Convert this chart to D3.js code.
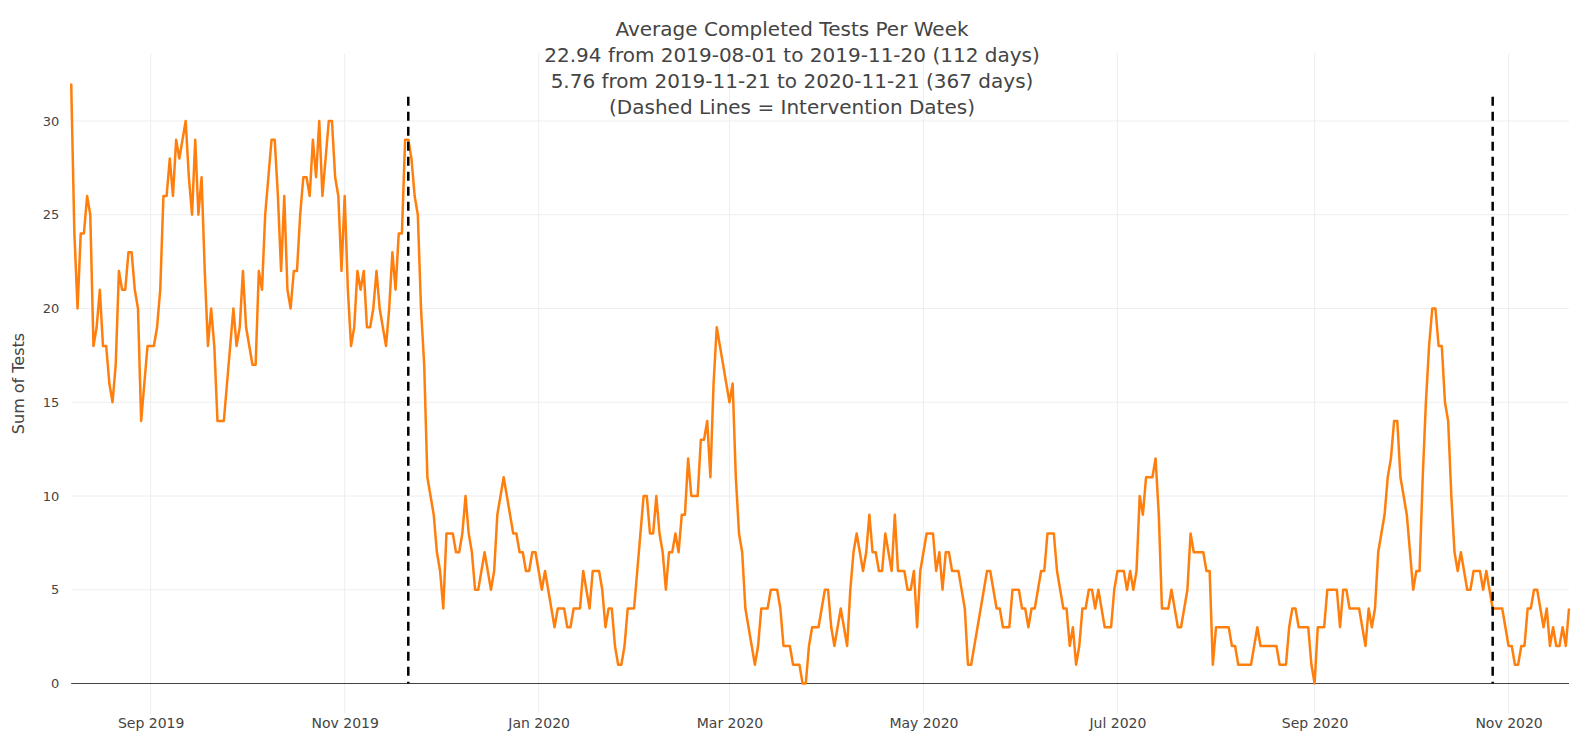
<!DOCTYPE html>
<html>
<head>
<meta charset="utf-8">
<script src="https://cdn.jsdelivr.net/npm/d3@7"></script>
<style>
  html, body { margin: 0; padding: 0; background: #fff; }
  svg { display: block; font-family: "DejaVu Sans", Verdana, sans-serif; }
</style>
</head>
<body>
<svg id="chart" width="1584" height="745"></svg>
<script>
"use strict";

// daily rolling 7-day sums, first point is 2019-08-07
const startDate = "2019-08-07";
const aug2019 = [32, 24, 20, 24, 24, 26, 25, 18, 19, 21, 18, 18, 16, 15, 17, 22, 21, 21, 23, 23, 21, 20, 14, 16, 18];
const sep2019 = [18, 18, 19, 21, 26, 26, 28, 26, 29, 28, 29, 30, 27, 25, 29, 25, 27, 22, 18, 20, 18, 14, 14, 14, 16, 18, 20, 18, 19, 22];
const oct2019 = [19, 18, 17, 17, 22, 21, 25, 27, 29, 29, 26, 22, 26, 21, 20, 22, 22, 25, 27, 27, 26, 29, 27, 30, 26, 28, 30, 30, 27, 26, 22];
const nov2019 = [26, 21, 18, 19, 22, 21, 22, 19, 19, 20, 22, 20, 19, 18, 20, 23, 21, 24, 24, 29, 29, 28, 26, 25, 20, 17, 11, 10, 9, 7];
const dec2019 = [6, 4, 8, 8, 8, 7, 7, 8, 10, 8, 7, 5, 5, 6, 7, 6, 5, 6, 9, 10, 11, 10, 9, 8, 8, 7, 7, 6, 6, 7, 7];
const jan2020 = [6, 5, 6, 5, 4, 3, 4, 4, 4, 3, 3, 4, 4, 4, 6, 5, 4, 6, 6, 6, 5, 3, 4, 4, 2, 1, 1, 2, 4, 4, 4];
const feb2020 = [6, 8, 10, 10, 8, 8, 10, 8, 7, 5, 7, 7, 8, 7, 9, 9, 12, 10, 10, 10, 13, 13, 14, 11, 16, 19, 18, 17, 16];
const mar2020 = [15, 16, 11, 8, 7, 4, 3, 2, 1, 2, 4, 4, 4, 5, 5, 5, 4, 2, 2, 2, 1, 1, 1, 0, 0, 2, 3, 3, 3, 4, 5];
const apr2020 = [5, 3, 2, 3, 4, 3, 2, 5, 7, 8, 7, 6, 7, 9, 7, 7, 6, 6, 8, 7, 6, 9, 6, 6, 6, 5, 5, 6, 3, 6];
const may2020 = [7, 8, 8, 8, 6, 7, 5, 7, 7, 6, 6, 6, 5, 4, 1, 1, 2, 3, 4, 5, 6, 6, 5, 4, 4, 3, 3, 3, 5, 5, 5];
const jun2020 = [4, 4, 3, 4, 4, 5, 6, 6, 8, 8, 8, 6, 5, 4, 4, 2, 3, 1, 2, 4, 4, 5, 5, 4, 5, 4, 3, 3, 3, 5];
const jul2020 = [6, 6, 6, 5, 6, 5, 6, 10, 9, 11, 11, 11, 12, 9, 4, 4, 4, 5, 4, 3, 3, 4, 5, 8, 7, 7, 7, 7, 6, 6, 1];
const aug2020 = [3, 3, 3, 3, 3, 2, 2, 1, 1, 1, 1, 1, 2, 3, 2, 2, 2, 2, 2, 2, 1, 1, 1, 3, 4, 4, 3, 3, 3, 3, 1];
const sep2020 = [0, 3, 3, 3, 5, 5, 5, 5, 3, 5, 5, 4, 4, 4, 4, 3, 2, 4, 3, 4, 7, 8, 9, 11, 12, 14, 14, 11, 10, 9];
const oct2020 = [7, 5, 6, 6, 11, 15, 18, 20, 20, 18, 18, 15, 14, 10, 7, 6, 7, 6, 5, 5, 6, 6, 6, 5, 6, 5, 4, 4, 4, 4, 3];
const nov2020 = [2, 2, 1, 1, 2, 2, 4, 4, 5, 5, 4, 3, 4, 2, 3, 2, 2, 3, 2, 4];

const interventionDates = ["2019-11-21", "2020-10-27"];
const yTicks = [0, 5, 10, 15, 20, 25, 30];
const xTicks = ["2019-09-01", "2019-11-01", "2020-01-01", "2020-03-01", "2020-05-01", "2020-07-01", "2020-09-01", "2020-11-01"];
const titleLines = [
	"Average Completed Tests Per Week",
	"22.94 from 2019-08-01 to 2019-11-20 (112 days)",
	"5.76 from 2019-11-21 to 2020-11-21 (367 days)",
	"(Dashed Lines = Intervention Dates)"
];
const yTitle = "Sum of Tests";

(() => {
	const W = 1584, H = 745;
	const parse = d3.utcParse("%Y-%m-%d");
	const values = [].concat(aug2019, sep2019, oct2019, nov2019, dec2019, jan2020, feb2020,
		mar2020, apr2020, may2020, jun2020, jul2020, aug2020, sep2020, oct2020, nov2020);
	const t0 = parse(startDate);
	const data = values.map((v, i) => ({ date: d3.utcDay.offset(t0, i), value: v }));

	const x = d3.scaleUtc()
		.domain(d3.extent(data, (d) => d.date))
		.range([71.2, 1569]);
	// autorange-like padding: 0 sits at 683.5, 30 at 121
	const y = d3.scaleLinear()
		.domain([0, 30])
		.range([683.5, 121]);
	const plot = { left: 71.2, right: 1569, top: y(33.6), bottom: y(-1.6) };

	const svg = d3.select('#chart');
	svg.append('rect').attr('width', W).attr('height', H).attr('fill', '#fff');

	// grid
	const grid = svg.append('g').attr('class', 'grid');
	grid.selectAll('line.vg')
		.data(xTicks.map(parse))
		.enter().append('line')
		.attr('x1', (d) => x(d)).attr('x2', (d) => x(d))
		.attr('y1', plot.top).attr('y2', plot.bottom)
		.attr('stroke', '#eee').attr('stroke-width', 1);
	grid.selectAll('line.hg')
		.data(yTicks.filter((t) => t !== 0))
		.enter().append('line')
		.attr('x1', plot.left).attr('x2', plot.right)
		.attr('y1', (d) => y(d)).attr('y2', (d) => y(d))
		.attr('stroke', '#eee').attr('stroke-width', 1);

	// zero line
	svg.append('line')
		.attr('x1', plot.left).attr('x2', plot.right)
		.attr('y1', y(0)).attr('y2', y(0))
		.attr('stroke', '#444').attr('stroke-width', 1);

	// axes labels
	const yAxis = d3.axisLeft(y).tickValues(yTicks).tickSize(0).tickPadding(0);
	svg.append('g')
		.attr('transform', `translate(${plot.left - 12},0)`)
		.call(yAxis)
		.call((g) => g.select('.domain').remove())
		.selectAll('text')
		.attr('font-size', 13).attr('fill', '#444')
		.attr('font-family', '"DejaVu Sans", Verdana, sans-serif');

	const xAxis = d3.axisBottom(x)
		.tickValues(xTicks.map(parse))
		.tickFormat(d3.utcFormat('%b %Y'))
		.tickSize(0).tickPadding(0);
	svg.append('g')
		.attr('transform', `translate(0,${plot.bottom + 5})`)
		.call(xAxis)
		.call((g) => g.select('.domain').remove())
		.selectAll('text')
		.attr('font-size', 14).attr('fill', '#444')
		.attr('font-family', '"DejaVu Sans", Verdana, sans-serif');

	// line
	const line = d3.line()
		.x((d) => x(d.date))
		.y((d) => y(d.value));
	svg.append('path')
		.datum(data)
		.attr('d', line)
		.attr('fill', 'none')
		.attr('stroke', '#ff7f0e')
		.attr('stroke-width', 2.5)
		.attr('stroke-linejoin', 'round');

	// intervention lines
	svg.selectAll('line.intervention')
		.data(interventionDates.map(parse))
		.enter().append('line')
		.attr('class', 'intervention')
		.attr('x1', (d) => x(d)).attr('x2', (d) => x(d))
		.attr('y1', y(31.3)).attr('y2', y(0))
		.attr('stroke', '#000').attr('stroke-width', 2.5)
		.attr('stroke-dasharray', '9,6');

	// title
	svg.append('text')
		.attr('x', W / 2).attr('y', 36)
		.attr('text-anchor', 'middle')
		.attr('font-size', 20).attr('fill', '#444')
		.selectAll('tspan')
		.data(titleLines)
		.enter().append('tspan')
		.attr('x', W / 2)
		.attr('dy', (d, i) => i === 0 ? 0 : 26)
		.text((d) => d);

	svg.append('text')
		.attr('transform', `translate(24,${(plot.top + plot.bottom) / 2}) rotate(-90)`)
		.attr('text-anchor', 'middle')
		.attr('font-size', 16).attr('fill', '#444')
		.text(yTitle);
})();
</script>
</body>
</html>
